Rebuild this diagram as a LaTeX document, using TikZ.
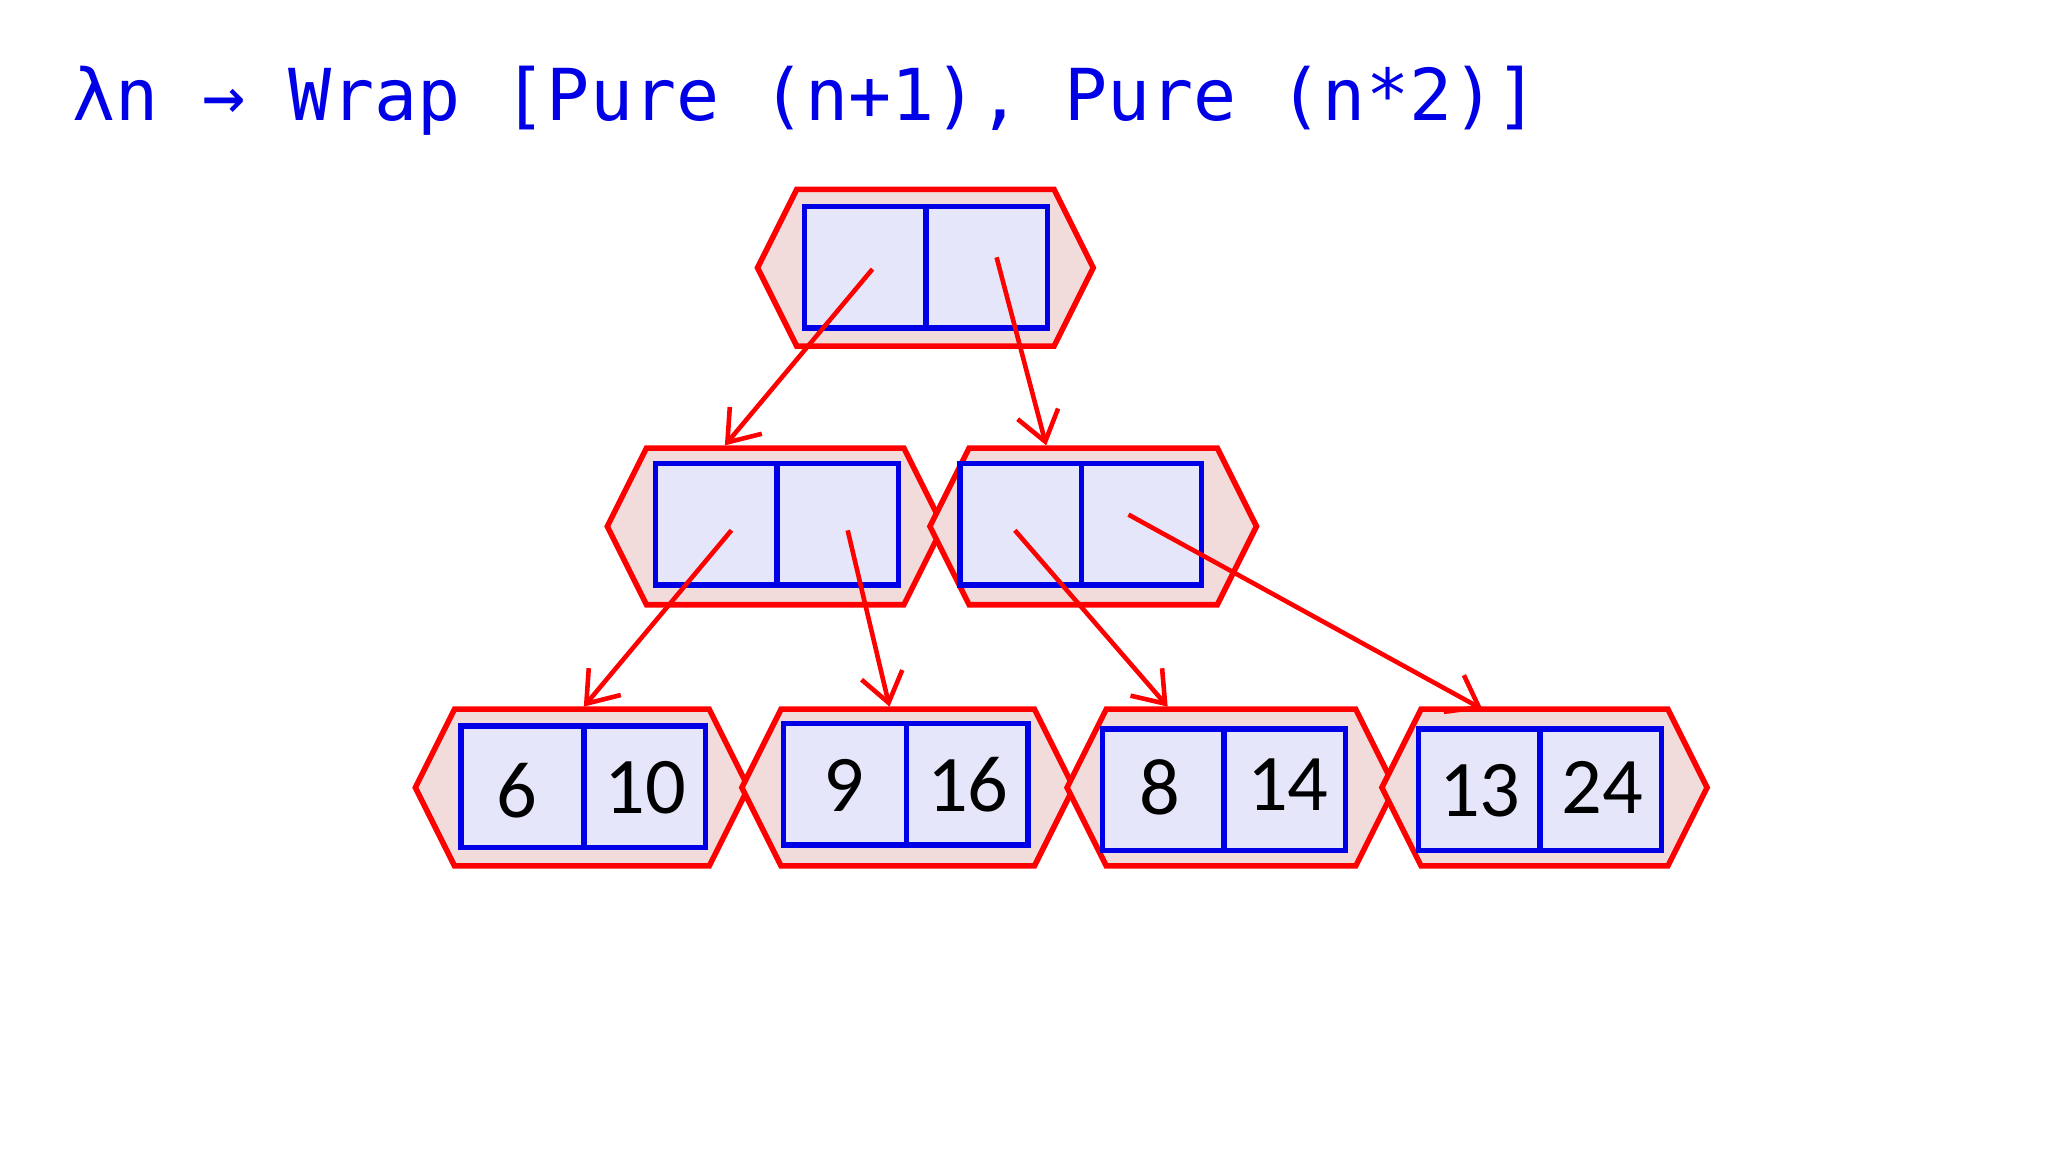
\documentclass[tikz,border=0pt]{standalone}
\usepackage{fontspec}
\setmainfont{Carlito}
\newfontfamily\monof{DejaVu Sans Mono}
\definecolor{hexfill}{RGB}{242,220,219}
\definecolor{cellfill}{RGB}{230,230,250}
\definecolor{myred}{RGB}{255,0,0}
\definecolor{myblue}{RGB}{0,0,230}
\tikzset{hexline/.style={draw=myred,fill=hexfill,line width=1.2pt,line join=miter},
cellline/.style={draw=myblue,fill=cellfill,line width=1.2pt},
arr/.style={draw=myred,line width=1pt,->,>={Straight Barb[length=2.2mm,width=3.2mm]}},
num/.style={font=\fontsize{17.5pt}{20pt}\selectfont,inner sep=0pt}}
\usetikzlibrary{arrows.meta}
% #1 left x, #2 right x, #3 top y, #4 inner left, #5 split, #6 inner right, #7 inner top
\newcommand\hexgroup[7]{%
  \path[hexline] (#1,#3+60) -- (#1+30,#3) -- (#2-30,#3) -- (#2,#3+60) -- (#2-30,#3+120) -- (#1+30,#3+120) -- cycle;
  \path[cellline] (#4,#7) rectangle (#6,#7+93);
  \draw[myblue,line width=1.2pt] (#5,#7) -- (#5,#7+93);}
\begin{document}
\begin{tikzpicture}[x=0.1mm,y=-0.1mm]
\useasboundingbox (0,0) rectangle (1568,882);
\node[anchor=base west,inner sep=0pt,text=myblue,font=\monof\fontsize{15.6pt}{18pt}\selectfont] (title) at (55,92) {λn → Wrap [Pure (n+1), Pure (n*2)]};
\hexgroup{580}{837}{145}{616}{709}{802}{158}
\hexgroup{465}{722}{343}{502}{595}{688}{355}
\hexgroup{712}{962}{343}{735}{828}{920}{355}
\hexgroup{318}{573}{543}{353}{447}{540}{556}
\hexgroup{568}{822}{543}{600}{694}{787}{554}
\hexgroup{817}{1068}{543}{844}{937}{1030}{558}
\hexgroup{1058}{1307}{543}{1086}{1179}{1272}{558}
\node[num] (a1) at (396,605) {6};
\node[num] (a2) at (494,603) {10};
\node[num] (b1) at (646,601) {9};
\node[num] (b2) at (741,601) {16};
\node[num] (c1) at (888,603) {8};
\node[num] (c2) at (986,601) {14};
\node[num] (d1) at (1133,605) {13};
\node[num] (d2) at (1227,603) {24};
\coordinate (s1) at (668,206); \coordinate (e1) at (555,341);
\coordinate (s2) at (763,197); \coordinate (e2) at (801,341);
\coordinate (s3) at (560,406); \coordinate (e3) at (447,541);
\coordinate (s4) at (649,406); \coordinate (e4) at (681,541);
\coordinate (s5) at (777,406); \coordinate (e5) at (894,541);
\coordinate (s6) at (864,394); \coordinate (e6) at (1135,543);
\foreach \i in {1,...,6} {\draw[arr] (s\i) -- (e\i);}
\end{tikzpicture}
\end{document}
